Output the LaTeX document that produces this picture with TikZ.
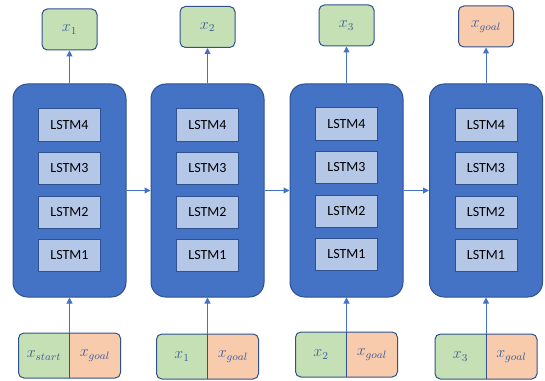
\documentclass[tikz,border=0pt]{standalone}
\usepackage{fontspec}
\newfontfamily\lstmfont{Carlito}
\usetikzlibrary{arrows.meta}
\definecolor{cellblue}{HTML}{4472C4}
\definecolor{edgeblue}{HTML}{2F528F}
\definecolor{layerblue}{HTML}{B4C7E7}
\definecolor{outgreen}{HTML}{C5E0B4}
\definecolor{goalorange}{HTML}{F8CBAD}
\definecolor{mathblue}{HTML}{3B5E9C}

\begin{document}
\begin{tikzpicture}[x=0.75pt, y=-0.75pt,
    cell/.style={draw=edgeblue, fill=cellblue, line width=0.75pt, rounded corners=11pt, minimum width=84.75pt, minimum height=159.75pt},
    layer/.style={draw=edgeblue, fill=layerblue, line width=0.75pt, minimum width=46.5pt, minimum height=24pt, font=\lstmfont\fontsize{10.5pt}{12pt}\selectfont},
    outbox/.style={draw=edgeblue, fill=outgreen, line width=0.75pt, rounded corners=4pt, minimum width=41.25pt, minimum height=30.75pt, text=mathblue, font=\fontsize{12pt}{14pt}\selectfont},
    pairbox/.style={draw=edgeblue, fill=goalorange, line width=0.75pt, rounded corners=4pt, minimum width=76.5pt, minimum height=33.75pt,
      path picture={\fill[outgreen, sharp corners] (path picture bounding box.north west) rectangle (path picture bounding box.south);
                    \draw[edgeblue, line width=0.75pt, sharp corners] (path picture bounding box.north) -- (path picture bounding box.south);}},
    mathlab/.style={text=mathblue, inner sep=1pt, font=\fontsize{12pt}{14pt}\selectfont},
    arr/.style={draw=cellblue, line width=0.75pt, -{Triangle[width=4.5pt,length=4.5pt]}}]
  \useasboundingbox (0,0) rectangle (545,381);

  % recurrent cells
  \node [cell] (b1) at (69.5,190.5) {};
  \node [cell] (b2) at (207.5,190.5) {};
  \node [cell] (b3) at (346.5,190.5) {};
  \node [cell] (b4) at (486,190.5) {};

  % stacked layers
  \node [layer] (l14) at (69.5,125) {LSTM4};
  \node [layer] (l13) at (69.5,168.5) {LSTM3};
  \node [layer] (l12) at (69.5,212) {LSTM2};
  \node [layer] (l11) at (69.5,255.5) {LSTM1};

  \node [layer] (l24) at (207.5,125) {LSTM4};
  \node [layer] (l23) at (207.5,168.5) {LSTM3};
  \node [layer] (l22) at (207.5,212) {LSTM2};
  \node [layer] (l21) at (207.5,255.5) {LSTM1};

  \node [layer] (l34) at (346.5,124) {LSTM4};
  \node [layer] (l33) at (346.5,167.5) {LSTM3};
  \node [layer] (l32) at (346.5,211) {LSTM2};
  \node [layer] (l31) at (346.5,254.5) {LSTM1};

  \node [layer] (l44) at (486,125) {LSTM4};
  \node [layer] (l43) at (486,168.5) {LSTM3};
  \node [layer] (l42) at (486,212) {LSTM2};
  \node [layer] (l41) at (486,255.5) {LSTM1};

  % outputs
  \node [outbox] (o1) at (69.5,29.5) {$x_1$};
  \node [outbox] (o2) at (207.5,27) {$x_2$};
  \node [outbox] (o3) at (346.5,25.5) {$x_3$};
  \node [outbox, fill=goalorange] (o4) at (486,26.5) {$x_{goal}$};

  % inputs
  \node [pairbox] (in1) at (69.5,355.5) {};
  \node [pairbox] (in2) at (207.5,356.5) {};
  \node [pairbox] (in3) at (346.5,354.5) {};
  \node [pairbox] (in4) at (486,356.5) {};

  \node [mathlab] (s1) at (44,355.5) {$x_{start}$};
  \node [mathlab] (g1) at (95,355.5) {$x_{goal}$};
  \node [mathlab] (s2) at (182,356.5) {$x_1$};
  \node [mathlab] (g2) at (233,356.5) {$x_{goal}$};
  \node [mathlab] (s3) at (321,354.5) {$x_2$};
  \node [mathlab] (g3) at (372,354.5) {$x_{goal}$};
  \node [mathlab] (s4) at (460.5,356.5) {$x_3$};
  \node [mathlab] (g4) at (511.5,356.5) {$x_{goal}$};

  \draw [arr] (in1) -- (b1);
  \draw [arr] (in2) -- (b2);
  \draw [arr] (in3) -- (b3);
  \draw [arr] (in4) -- (b4);

  \draw [arr] (b1) -- (o1);
  \draw [arr] (b2) -- (o2);
  \draw [arr] (b3) -- (o3);
  \draw [arr] (b4) -- (o4);

  \draw [arr] (b1) -- (b2);
  \draw [arr] (b2) -- (b3);
  \draw [arr] (b3) -- (b4);
\end{tikzpicture}
\end{document}
